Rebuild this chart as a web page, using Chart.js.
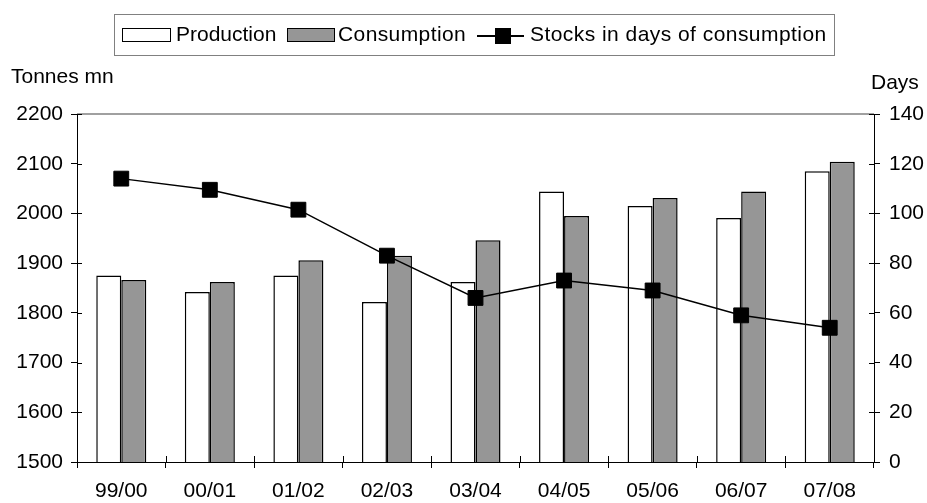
<!DOCTYPE html>
<html>
<head>
<meta charset="utf-8">
<script src="https://cdn.jsdelivr.net/npm/chart.js@4"></script>
<style>
  body { margin: 0; background: #fff; font-family: "Liberation Sans", Arial, sans-serif; }
  #wrap { position: relative; width: 927px; height: 503px; }
  .txt { position: absolute; font-size: 21px; line-height: 21px; color: #000; white-space: nowrap; }
  #legend { position: absolute; left: 114px; top: 14px; width: 721px; height: 42px; border: 1px solid #808080; box-sizing: border-box; }
  .sw { position: absolute; box-sizing: border-box; border: 1.5px solid #000; }
</style>
</head>
<body>
<div id="wrap">
  <canvas id="stocksChart"></canvas>
  <div id="legend"></div>
  <div class="txt" style="left:11px; top:65px;">Tonnes mn</div>
  <div class="txt" style="left:871px; top:71px;">Days</div>
</div>
<script>
const categories = ['99/00', '00/01', '01/02', '02/03', '03/04', '04/05', '05/06', '06/07', '07/08'];
const production = [1875, 1842, 1875, 1822, 1862, 2044, 2015, 1991, 2085];
const consumption = [1866, 1862, 1906, 1915, 1946, 1995, 2031, 2044, 2104];
const stockDays = [114, 109.5, 101.5, 83, 66, 73, 69, 59, 54];
const leftTicks = [1500, 1600, 1700, 1800, 1900, 2000, 2100, 2200];
const rightTicks = [0, 20, 40, 60, 80, 100, 120, 140];

const font = { family: '"Liberation Sans", Arial, sans-serif', size: 21 };

// legend drawn as html (page coords minus legend box offset)
const legend = document.getElementById('legend');
legend.innerHTML = `
  <div class="sw" style="left:7px; top:13px; width:49px; height:14px; background:#fff;"></div>
  <div class="txt" style="left:61px; top:8px;">Production</div>
  <div class="sw" style="left:172px; top:13px; width:48px; height:14px; background:#969696;"></div>
  <div class="txt" style="left:223px; top:8px; letter-spacing:0.4px;">Consumption</div>
  <div style="position:absolute; left:362px; top:20px; width:47px; height:2px; background:#000;"></div>
  <div style="position:absolute; left:380px; top:13px; width:16px; height:16px; background:#000;"></div>
  <div class="txt" style="left:415px; top:8px; letter-spacing:0.45px;">Stocks in days of consumption</div>
`;

// top border line + inner halves of the tick marks
const frame = {
  id: 'frame',
  afterDraw(chart) {
    const { ctx, chartArea: a, scales } = chart;
    ctx.save();
    ctx.strokeStyle = '#808080';
    ctx.lineWidth = 1.5;
    ctx.beginPath();
    ctx.moveTo(a.left, a.top);
    ctx.lineTo(a.right, a.top);
    ctx.stroke();
    ctx.strokeStyle = '#000';
    ctx.lineWidth = 1;
    ctx.beginPath();
    leftTicks.forEach(v => {
      const y = Math.round(scales.y.getPixelForValue(v)) + 0.5;
      ctx.moveTo(a.left, y); ctx.lineTo(a.left + 5, y);
    });
    rightTicks.forEach(v => {
      const y = Math.round(scales.y2.getPixelForValue(v)) + 0.5;
      ctx.moveTo(a.right, y); ctx.lineTo(a.right - 5, y);
    });
    const step = (a.right - a.left) / categories.length;
    for (let i = 0; i <= categories.length; i++) {
      const x = Math.round(a.left + i * step) + 0.5;
      ctx.moveTo(x, a.bottom); ctx.lineTo(x, a.bottom - 6);
    }
    ctx.stroke();
    ctx.restore();
  }
};

new Chart(document.getElementById('stocksChart'), {
  type: 'bar',
  data: {
    labels: categories,
    datasets: [
      {
        type: 'line',
        label: 'Stocks in days of consumption',
        data: stockDays,
        yAxisID: 'y2',
        borderColor: '#000',
        borderWidth: 1.5,
        pointStyle: 'rect',
        pointRadius: 10.5,
        pointBackgroundColor: '#000',
        pointBorderColor: '#000',
        pointBorderWidth: 1,
        tension: 0,
        order: 0,
      },
      {
        label: 'Production',
        data: production,
        backgroundColor: '#fff',
        borderColor: '#000',
        borderWidth: 1.5,
        order: 1,
      },
      {
        label: 'Consumption',
        data: consumption,
        backgroundColor: '#969696',
        borderColor: '#000',
        borderWidth: 1.5,
        order: 1,
      },
    ],
  },
  options: {
    responsive: true,
    maintainAspectRatio: false,
    animation: false,
    categoryPercentage: 0.565,
    barPercentage: 1,
    layout: { padding: { top: 114, left: 0, right: 0, bottom: 0 } },
    plugins: { legend: { display: false }, tooltip: { enabled: false } },
    scales: {
      x: {
        grid: { offset: true, drawOnChartArea: false, drawTicks: true, tickLength: 6, color: '#000' },
        border: { color: '#000', width: 1 },
        ticks: { font: font, color: '#000', padding: 11, maxRotation: 0 },
        afterFit: s => { s.height = 41; },
      },
      y: {
        position: 'left',
        min: 1500,
        max: 2200,
        grid: { drawOnChartArea: false, tickLength: 6, color: '#000' },
        border: { color: '#000', width: 1 },
        ticks: { stepSize: 100, font: font, color: '#000', padding: 8, callback: v => String(v) },
        afterFit: s => { s.width = 77; },
      },
      y2: {
        position: 'right',
        min: 0,
        max: 140,
        grid: { drawOnChartArea: false, tickLength: 6, color: '#000' },
        border: { color: '#000', width: 1 },
        ticks: { stepSize: 20, font: font, color: '#000', padding: 9, callback: v => String(v) },
        afterFit: s => { s.width = 53; },
      },
    },
  },
  plugins: [frame],
});
</script>
</body>
</html>
